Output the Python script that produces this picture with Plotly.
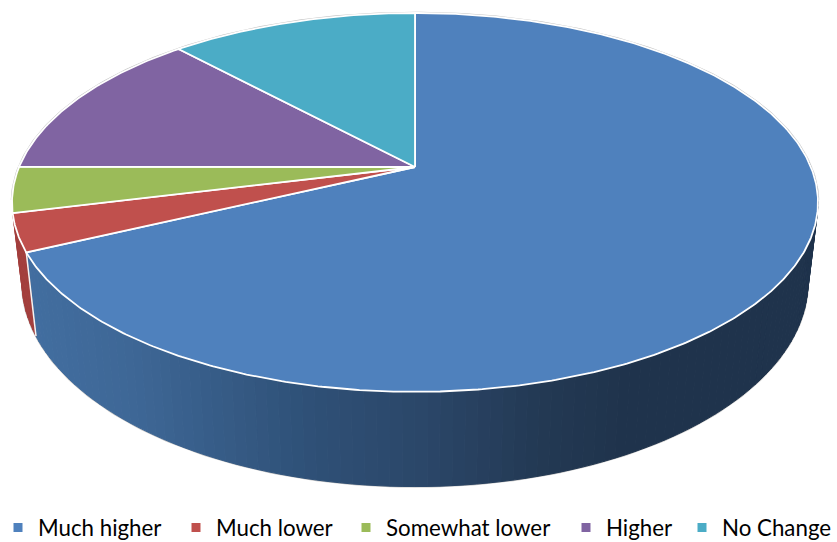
import math
import plotly.graph_objects as go

# Survey answers, in clockwise order from twelve o'clock
categories = ["Much higher", "Much lower", "Somewhat lower", "Higher", "No Change"]
shares = [68.0, 3.2, 3.9, 13.1, 11.9]
top_colors = ["#4F81BD", "#C0504D", "#9BBB59", "#8064A2", "#4BACC6"]
wall_color_second = "#A33F3D"

# Perspective disc: apex, half-axes, tilt and extrusion, in page pixels
CX, CY = 415.0, 167.0
AX, AY = 395.9, 182.8
TILT = -0.187
DEPTH = 77.0
BASE_SHRINK = 0.975

# Horizontal shading of the blue wall: (x, rgb)
SHADE = [(20, (66, 110, 160)), (130, (62, 103, 150)), (300, (47, 81, 120)),
         (420, (43, 71, 105)), (540, (35, 57, 84)), (630, (31, 51, 76)), (840, (31, 51, 76))]


def top_point(deg):
    t = math.radians(deg)
    u, v = math.sin(t), -math.cos(t)
    w = 1 + TILT * v
    return CX + AX * u / w, CY + AY * v / w


def base_point(deg):
    t = math.radians(deg)
    u, v = math.sin(t), -math.cos(t)
    w = 1 + TILT * v
    return CX + BASE_SHRINK * AX * u / w, CY + (AY * v + DEPTH) / w


def shade_at(x):
    for (x0, c0), (x1, c1) in zip(SHADE, SHADE[1:]):
        if x0 <= x <= x1:
            f = (x - x0) / (x1 - x0)
            r, g, b = (round(a + (b - a) * f) for a, b in zip(c0, c1))
            return f"rgb({r},{g},{b})"
    return f"rgb{SHADE[-1][1]}"


def frange(a, b, step):
    n = max(1, int(abs(b - a) / step))
    return [a + (b - a) * i / n for i in range(n + 1)]


def quad_trace(a0, a1, color):
    p = [top_point(a0), top_point(a1), base_point(a1), base_point(a0), top_point(a0)]
    return go.Scatter(x=[q[0] for q in p], y=[q[1] for q in p], mode="lines", fill="toself",
                      fillcolor=color, line=dict(color=color, width=1),
                      hoverinfo="skip", showlegend=False)


# Slice boundaries in degrees
bounds = [0.0]
for s in shares:
    bounds.append(bounds[-1] + s / sum(shares) * 360.0)

fig = go.Figure()

# Faint outline hugging the silhouette
rim_angles = frange(-100, 100, 1)
fig.add_trace(go.Scatter(x=[top_point(a)[0] for a in rim_angles], y=[top_point(a)[1] for a in rim_angles],
                         mode="lines", line=dict(color="#c4c4c4", width=2.6), hoverinfo="skip", showlegend=False))
base_angles = frange(80, 262, 1)
fig.add_trace(go.Scatter(x=[base_point(a)[0] for a in base_angles], y=[base_point(a)[1] for a in base_angles],
                         mode="lines", line=dict(color="#c4c4c4", width=2.2), hoverinfo="skip", showlegend=False))

# Side wall of the large slice, one thin strip per shade step
strip = frange(75, bounds[1], 1.5)
for a0, a1 in zip(strip, strip[1:]):
    x_mid = (top_point(a0)[0] + top_point(a1)[0]) / 2
    fig.add_trace(quad_trace(a0, a1, shade_at(x_mid)))

# Side wall of the next slice, visible only at the left edge
strip = frange(bounds[1], min(bounds[2], 262), 1.5)
for a0, a1 in zip(strip, strip[1:]):
    fig.add_trace(quad_trace(a0, a1, wall_color_second))

# White seam where the wall is cut
seam = [top_point(bounds[1]), base_point(bounds[1])]
fig.add_trace(go.Scatter(x=[q[0] for q in seam], y=[q[1] for q in seam], mode="lines",
                         line=dict(color="#f4f4f4", width=1.5), hoverinfo="skip", showlegend=False))

# Top faces
for i, name in enumerate(categories):
    arc = frange(bounds[i], bounds[i + 1], 0.5)
    pts = [(CX, CY)] + [top_point(a) for a in arc] + [(CX, CY)]
    fig.add_trace(go.Scatter(x=[q[0] for q in pts], y=[q[1] for q in pts], mode="lines", fill="toself",
                             fillcolor=top_colors[i], line=dict(color="white", width=1.8),
                             name=name, hoverinfo="name", showlegend=False))

# Legend entries, each placed on its own along the bottom
legend_left = [-2.0, 176.0, 346.0, 566.0, 682.0]
layout_legends = {}
for i, name in enumerate(categories):
    key = "legend" if i == 0 else f"legend{i + 1}"
    fig.add_trace(go.Scatter(x=[None], y=[None], mode="markers", name=name, legend=key,
                             marker=dict(symbol="square", size=9, color=top_colors[i]), showlegend=True))
    layout_legends[key] = dict(x=legend_left[i] / 837, y=-0.012, xanchor="left", yanchor="bottom",
                               bgcolor="rgba(0,0,0,0)", borderwidth=0, itemsizing="trace",
                               font=dict(family="Lato", size=22.3, color="#000000"))

fig.update_layout(width=837, height=542, margin=dict(l=0, r=0, t=0, b=0, autoexpand=False),
                  paper_bgcolor="white", plot_bgcolor="white",
                  xaxis=dict(range=[0, 837], visible=False, fixedrange=True),
                  yaxis=dict(range=[542, 0], visible=False, fixedrange=True),
                  **layout_legends)

fig.write_html("out.html")
